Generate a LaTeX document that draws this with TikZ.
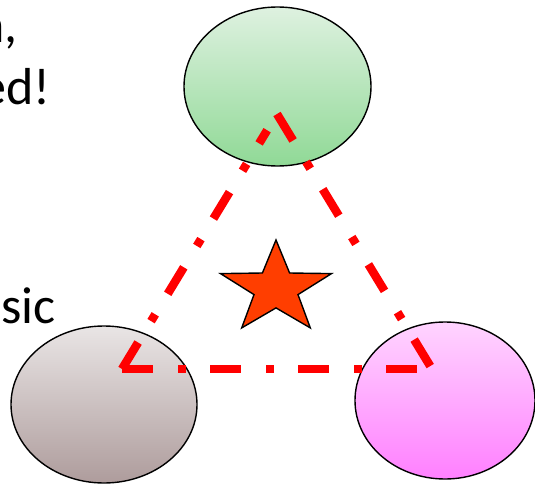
\documentclass[tikz,border=0pt]{standalone}
\usepackage{fontspec}
\setmainfont{Carlito}
\begin{document}
\begin{tikzpicture}[x=1pt,y=-1pt,
  blob/.style={draw=black,line width=1.4pt},
  link/.style={draw=red,line width=8.5pt,line cap=butt,
    dash pattern=on 31pt off 25pt on 8pt off 24pt},
  caption/.style={font=\fontsize{52}{60}\selectfont,inner sep=0pt,anchor=base east}]
\useasboundingbox (0,0) rectangle (535,484);

% three coloured ellipses
\path[blob,top color={rgb,255:red,222;green,241;blue,224},bottom color={rgb,255:red,144;green,217;blue,150}]
  (277.5,86.5) ellipse [x radius=93.5,y radius=79.5];
\path[blob,top color={rgb,255:red,233;green,229;blue,229},bottom color={rgb,255:red,174;green,156;blue,156}]
  (104,404.5) ellipse [x radius=93,y radius=78.5];
\path[blob,top color={rgb,255:red,255;green,212;blue,255},bottom color={rgb,255:red,255;green,128;blue,255}]
  (445,400.5) ellipse [x radius=90,y radius=78.5];

% corners of the dash-dot triangle
\coordinate (A) at (277,114);
\coordinate (L) at (122,369);
\coordinate (R) at (432,369);
\draw[link] (A) -- (R);
\draw[link] (L) -- (R);
\draw[link,shorten >=19pt] (L) -- (A);

% star in the middle
\filldraw[fill={rgb,255:red,255;green,62;blue,0},draw=black,line width=1.4pt,miter limit=10]
  (276,240) -- (289.6,273) -- (331.5,273.6) -- (298,294.6) -- (310.3,327.9)
  -- (276,307.9) -- (241.7,327.9) -- (254,294.6) -- (220.5,273.6) -- (262.4,273) -- cycle;

% text fragments on the left
\node[caption] (t1) at (18,43) {n,};
\node[caption] (t2) at (51,105) {ed!};
\node[caption] (t3) at (56,323) {sic};
\end{tikzpicture}
\end{document}
